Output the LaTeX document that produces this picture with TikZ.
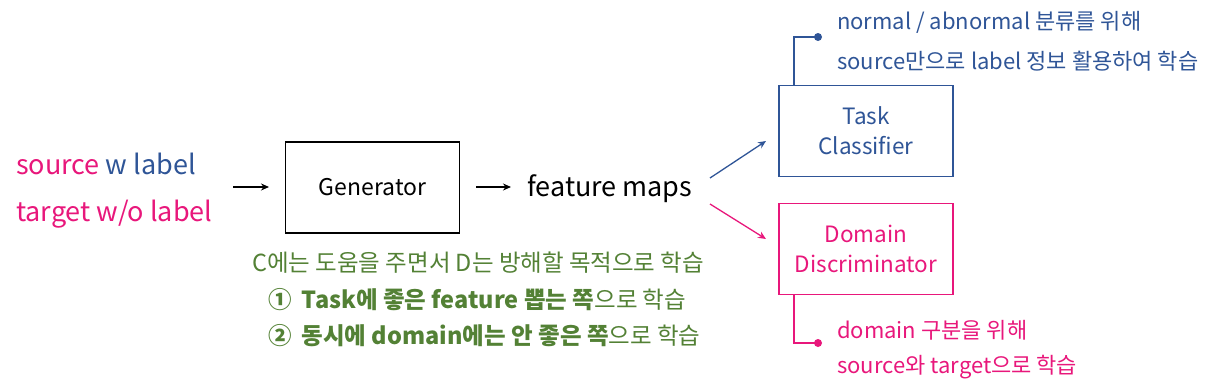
\documentclass[tikz,border=0pt]{standalone}
\usepackage{fontspec}
\setmainfont{Noto Sans CJK KR}
\usetikzlibrary{arrows.meta}
\definecolor{cpink}{HTML}{E8177B}
\definecolor{cblue}{HTML}{2F5597}
\definecolor{cgreen}{HTML}{538135}
\tikzset{
  boxnode/.style={draw, line width=1.8pt, minimum width=174pt, minimum height=91pt, inner sep=0pt, align=center, font=\fontsize{22.5}{30}\selectfont},
  txt/.style={inner sep=0pt, anchor=west},
  arr/.style={-{Stealth[length=8pt,width=7pt]}, line width=1.3pt},
  dotline/.style={line width=1.6pt},
  bigtxt/.style={txt, font=\fontsize{27}{30}\selectfont},
  sidetxt/.style={txt, font=\fontsize{22}{24}\selectfont},
  greentxt/.style={txt, font=\fontsize{23.5}{26}\selectfont, text=cgreen},
}
\begin{document}
\begin{tikzpicture}[x=1pt,y=-1pt]
\useasboundingbox (0,0) rectangle (1220,389);
% left texts
\node[bigtxt] (src) at (16,164) {\textcolor{cpink}{source} \textcolor{cblue}{w label}};
\node[bigtxt, text=cpink] (tgt) at (16,214) {target w/o label};
% generator
\node[boxnode, font=\fontsize{23}{30}\selectfont] (gen) at (372.5,187.5) {Generator};
\coordinate (a1s) at (233,187);
\coordinate (a1e) at (269,187);
\draw[arr] (a1s) -- (a1e);
\coordinate (a2s) at (476,187);
\coordinate (a2e) at (511,187);
\draw[arr] (a2s) -- (a2e);
\node[bigtxt] (fm) at (527,189) {feature maps};
% classifier
\node[boxnode, draw=cblue, text=cblue] (tc) at (866,131) {Task\\Classifier};
\node[boxnode, draw=cpink, text=cpink] (dd) at (866,249) {Domain\\Discriminator};
\coordinate (b1s) at (710,178);
\coordinate (b1e) at (766,141);
\draw[arr, cblue] (b1s) -- (b1e);
\coordinate (p1s) at (710,204);
\coordinate (p1e) at (766,239);
\draw[arr, cpink] (p1s) -- (p1e);
% blue callout
\coordinate (tcd) at (818,37);
\draw[dotline, cblue] (tc.north west -| 794,0) -- (794,37) -- (tcd);
\fill[cblue] (tcd) circle (4pt);
\node[sidetxt, text=cblue] (bt1) at (837,22) {normal / abnormal 분류를 위해};
\node[sidetxt, text=cblue] (bt2) at (837,61) {source만으로 label 정보 활용하여 학습};
% pink callout
\coordinate (ddd) at (818,343);
\draw[dotline, cpink] (dd.south west -| 794,0) -- (794,343) -- (ddd);
\fill[cpink] (ddd) circle (4pt);
\node[sidetxt, text=cpink] (pt1) at (837,330) {domain 구분을 위해};
\node[sidetxt, text=cpink] (pt2) at (837,367) {source와 target으로 학습};
% green text
\node[greentxt] (g1) at (252,263) {C에는 도움을 주면서 D는 방해할 목적으로 학습};
\node[greentxt] (g2) at (268,300) {\textbf{①}\hspace{10pt}\textbf{Task에 좋은 feature 뽑는 쪽}으로 학습};
\node[greentxt] (g3) at (268,336) {\textbf{②}\hspace{10pt}\textbf{동시에 domain에는 안 좋은 쪽}으로 학습};
\end{tikzpicture}
\end{document}
